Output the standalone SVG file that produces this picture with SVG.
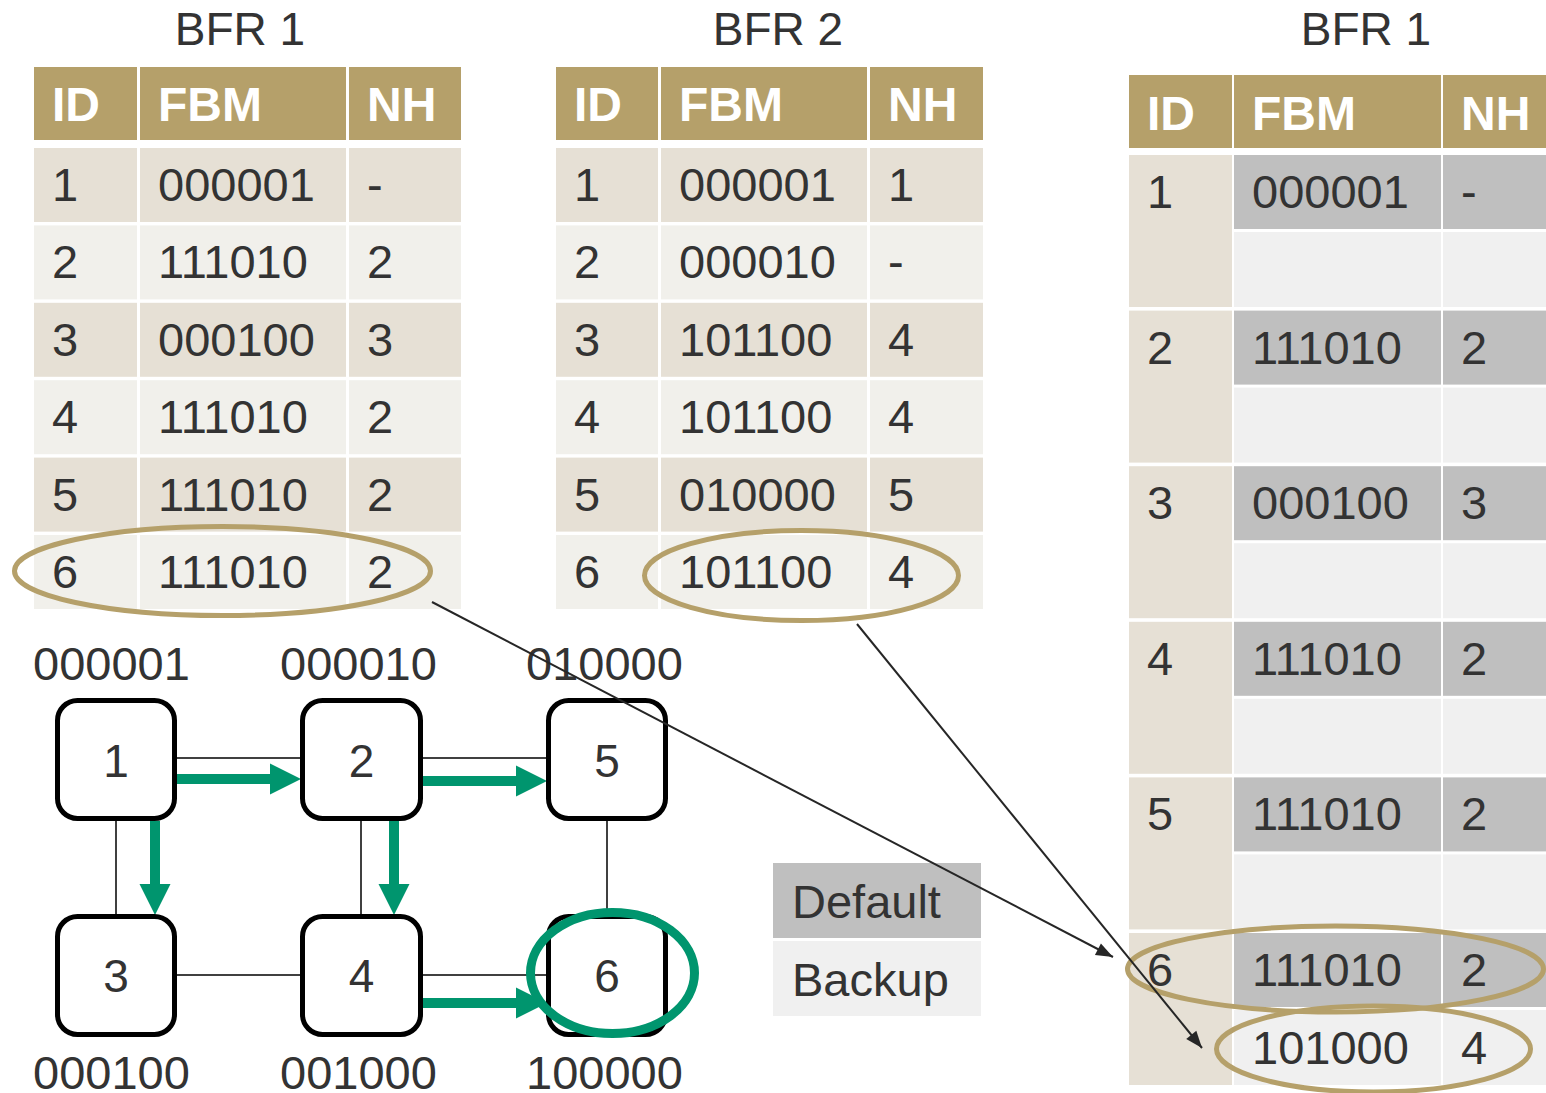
<svg xmlns="http://www.w3.org/2000/svg" width="1546" height="1093" viewBox="0 0 1546 1093">
<style>
text{font-family:"Liberation Sans",Arial,sans-serif;fill:#333333;font-size:47px}
.th{font-weight:bold;fill:#ffffff;font-size:48px}
.ttl{text-anchor:middle;font-size:46px}
.hd{fill:#B5A06A}
.r1{fill:#E6E0D5}
.r2{fill:#F1F0EB}
.def{fill:#BFBFBF}
.bak{fill:#F0F0F0}
.idc{fill:#E6E0D5}
.ring{fill:none;stroke:#B5A06A;stroke-width:5}
.node rect{fill:#ffffff;stroke:#000000;stroke-width:5}
.nl{text-anchor:middle;font-size:46px}
.link{stroke:#404040;stroke-width:2;fill:none}
.garr{stroke:#00956E;stroke-width:10;fill:none}
.ptr{stroke:#262626;stroke-width:2;fill:none}
</style>
<defs>
<marker id="gh" markerUnits="userSpaceOnUse" markerWidth="31" markerHeight="31" refX="0" refY="15.5" orient="auto" overflow="visible">
<path d="M0,0 L31,15.5 L0,31 z" fill="#00956E"/>
</marker>
<marker id="bh" markerUnits="userSpaceOnUse" markerWidth="17" markerHeight="13" refX="17" refY="6.5" orient="auto" overflow="visible">
<path d="M0,0 L17,6.5 L0,13 z" fill="#262626"/>
</marker>
</defs>
<rect width="1546" height="1093" fill="#ffffff"/>

<!-- Left table BFR 1 -->
<g id="table-bfr1-left">
<text class="ttl" x="240" y="45">BFR 1</text>
<rect class="hd" x="34" y="67" width="103" height="73"/>
<rect class="hd" x="140" y="67" width="206" height="73"/>
<rect class="hd" x="349" y="67" width="112" height="73"/>
<text class="th" x="52" y="121">ID</text>
<text class="th" x="158" y="121">FBM</text>
<text class="th" x="367" y="121">NH</text>
<g>
<rect class="r1" x="34" y="148" width="103" height="74"/><rect class="r1" x="140" y="148" width="206" height="74"/><rect class="r1" x="349" y="148" width="112" height="74"/>
<rect class="r2" x="34" y="225.4" width="103" height="74"/><rect class="r2" x="140" y="225.4" width="206" height="74"/><rect class="r2" x="349" y="225.4" width="112" height="74"/>
<rect class="r1" x="34" y="302.8" width="103" height="74"/><rect class="r1" x="140" y="302.8" width="206" height="74"/><rect class="r1" x="349" y="302.8" width="112" height="74"/>
<rect class="r2" x="34" y="380.2" width="103" height="74"/><rect class="r2" x="140" y="380.2" width="206" height="74"/><rect class="r2" x="349" y="380.2" width="112" height="74"/>
<rect class="r1" x="34" y="457.6" width="103" height="74"/><rect class="r1" x="140" y="457.6" width="206" height="74"/><rect class="r1" x="349" y="457.6" width="112" height="74"/>
<rect class="r2" x="34" y="535" width="103" height="74"/><rect class="r2" x="140" y="535" width="206" height="74"/><rect class="r2" x="349" y="535" width="112" height="74"/>
</g>
<text x="52" y="201">1</text><text x="158" y="201">000001</text><text x="367" y="201">-</text>
<text x="52" y="278">2</text><text x="158" y="278">111010</text><text x="367" y="278">2</text>
<text x="52" y="356">3</text><text x="158" y="356">000100</text><text x="367" y="356">3</text>
<text x="52" y="433">4</text><text x="158" y="433">111010</text><text x="367" y="433">2</text>
<text x="52" y="511">5</text><text x="158" y="511">111010</text><text x="367" y="511">2</text>
<text x="52" y="588">6</text><text x="158" y="588">111010</text><text x="367" y="588">2</text>
<ellipse class="ring" cx="222.5" cy="571" rx="208" ry="44.5"/>
</g>

<!-- Middle table BFR 2 -->
<g id="table-bfr2">
<text class="ttl" x="778" y="45">BFR 2</text>
<rect class="hd" x="556" y="67" width="102" height="73"/>
<rect class="hd" x="661" y="67" width="206" height="73"/>
<rect class="hd" x="870" y="67" width="113" height="73"/>
<text class="th" x="574" y="121">ID</text>
<text class="th" x="679" y="121">FBM</text>
<text class="th" x="888" y="121">NH</text>
<g>
<rect class="r1" x="556" y="148" width="102" height="74"/><rect class="r1" x="661" y="148" width="206" height="74"/><rect class="r1" x="870" y="148" width="113" height="74"/>
<rect class="r2" x="556" y="225.4" width="102" height="74"/><rect class="r2" x="661" y="225.4" width="206" height="74"/><rect class="r2" x="870" y="225.4" width="113" height="74"/>
<rect class="r1" x="556" y="302.8" width="102" height="74"/><rect class="r1" x="661" y="302.8" width="206" height="74"/><rect class="r1" x="870" y="302.8" width="113" height="74"/>
<rect class="r2" x="556" y="380.2" width="102" height="74"/><rect class="r2" x="661" y="380.2" width="206" height="74"/><rect class="r2" x="870" y="380.2" width="113" height="74"/>
<rect class="r1" x="556" y="457.6" width="102" height="74"/><rect class="r1" x="661" y="457.6" width="206" height="74"/><rect class="r1" x="870" y="457.6" width="113" height="74"/>
<rect class="r2" x="556" y="535" width="102" height="74"/><rect class="r2" x="661" y="535" width="206" height="74"/><rect class="r2" x="870" y="535" width="113" height="74"/>
</g>
<text x="574" y="201">1</text><text x="679" y="201">000001</text><text x="888" y="201">1</text>
<text x="574" y="278">2</text><text x="679" y="278">000010</text><text x="888" y="278">-</text>
<text x="574" y="356">3</text><text x="679" y="356">101100</text><text x="888" y="356">4</text>
<text x="574" y="433">4</text><text x="679" y="433">101100</text><text x="888" y="433">4</text>
<text x="574" y="511">5</text><text x="679" y="511">010000</text><text x="888" y="511">5</text>
<text x="574" y="588">6</text><text x="679" y="588">101100</text><text x="888" y="588">4</text>
<ellipse class="ring" cx="801.5" cy="575.5" rx="157" ry="45"/>
</g>

<!-- Right table BFR 1 -->
<g id="table-bfr1-right">
<text class="ttl" x="1366" y="45">BFR 1</text>
<rect class="hd" x="1129" y="75" width="103" height="73"/>
<rect class="hd" x="1234" y="75" width="207" height="73"/>
<rect class="hd" x="1443" y="75" width="103" height="73"/>
<text class="th" x="1147" y="130">ID</text>
<text class="th" x="1252" y="130">FBM</text>
<text class="th" x="1461" y="130">NH</text>
<g>
<rect class="idc" x="1129" y="155" width="103" height="152"/><rect class="def" x="1234" y="155" width="207" height="74"/><rect class="def" x="1443" y="155" width="103" height="74"/><rect class="bak" x="1234" y="232" width="207" height="75"/><rect class="bak" x="1443" y="232" width="103" height="75"/>
<rect class="idc" x="1129" y="310.6" width="103" height="152"/><rect class="def" x="1234" y="310.6" width="207" height="74"/><rect class="def" x="1443" y="310.6" width="103" height="74"/><rect class="bak" x="1234" y="387.6" width="207" height="75"/><rect class="bak" x="1443" y="387.6" width="103" height="75"/>
<rect class="idc" x="1129" y="466.2" width="103" height="152"/><rect class="def" x="1234" y="466.2" width="207" height="74"/><rect class="def" x="1443" y="466.2" width="103" height="74"/><rect class="bak" x="1234" y="543.2" width="207" height="75"/><rect class="bak" x="1443" y="543.2" width="103" height="75"/>
<rect class="idc" x="1129" y="621.8" width="103" height="152"/><rect class="def" x="1234" y="621.8" width="207" height="74"/><rect class="def" x="1443" y="621.8" width="103" height="74"/><rect class="bak" x="1234" y="698.8" width="207" height="75"/><rect class="bak" x="1443" y="698.8" width="103" height="75"/>
<rect class="idc" x="1129" y="777.4" width="103" height="152"/><rect class="def" x="1234" y="777.4" width="207" height="74"/><rect class="def" x="1443" y="777.4" width="103" height="74"/><rect class="bak" x="1234" y="854.4" width="207" height="75"/><rect class="bak" x="1443" y="854.4" width="103" height="75"/>
<rect class="idc" x="1129" y="933" width="103" height="152"/><rect class="def" x="1234" y="933" width="207" height="74"/><rect class="def" x="1443" y="933" width="103" height="74"/><rect class="bak" x="1234" y="1010" width="207" height="75"/><rect class="bak" x="1443" y="1010" width="103" height="75"/>
</g>
<text x="1147" y="208">1</text><text x="1252" y="208">000001</text><text x="1461" y="208">-</text>
<text x="1147" y="364">2</text><text x="1252" y="364">111010</text><text x="1461" y="364">2</text>
<text x="1147" y="519">3</text><text x="1252" y="519">000100</text><text x="1461" y="519">3</text>
<text x="1147" y="675">4</text><text x="1252" y="675">111010</text><text x="1461" y="675">2</text>
<text x="1147" y="830">5</text><text x="1252" y="830">111010</text><text x="1461" y="830">2</text>
<text x="1147" y="986">6</text><text x="1252" y="986">111010</text><text x="1461" y="986">2</text>
<text x="1252" y="1064">101000</text><text x="1461" y="1064">4</text>
<ellipse class="ring" cx="1335.5" cy="969" rx="208" ry="43"/>
<ellipse class="ring" cx="1373.5" cy="1049" rx="157" ry="43"/>
</g>

<!-- Legend -->
<g id="legend">
<rect class="def" x="773" y="863" width="208" height="75"/>
<rect class="bak" x="773" y="941" width="208" height="75"/>
<text x="792" y="918">Default</text>
<text x="792" y="996">Backup</text>
</g>

<!-- Graph links -->
<g id="graph-links">
<line class="link" x1="177" y1="758" x2="300" y2="758"/>
<line class="link" x1="423" y1="758" x2="546" y2="758"/>
<line class="link" x1="116" y1="821" x2="116" y2="914"/>
<line class="link" x1="361" y1="821" x2="361" y2="914"/>
<line class="link" x1="607" y1="820" x2="607" y2="914"/>
<line class="link" x1="177" y1="975" x2="300" y2="975"/>
<line class="link" x1="423" y1="975" x2="546" y2="975"/>
<line class="garr" x1="177" y1="779" x2="270" y2="779" marker-end="url(#gh)"/>
<line class="garr" x1="423" y1="781" x2="516" y2="781" marker-end="url(#gh)"/>
<line class="garr" x1="423" y1="1003" x2="516" y2="1003" marker-end="url(#gh)"/>
<line class="garr" x1="155" y1="821" x2="155" y2="884" marker-end="url(#gh)"/>
<line class="garr" x1="394" y1="821" x2="394" y2="884" marker-end="url(#gh)"/>
</g>

<!-- Nodes -->
<g id="node-1" class="node"><rect x="57.5" y="700.5" width="117" height="118" rx="20"/><text class="nl" x="116" y="776.5">1</text><text x="33" y="680">000001</text></g>
<g id="node-2" class="node"><rect x="302.5" y="700.5" width="118" height="118" rx="20"/><text class="nl" x="361.5" y="776.5">2</text><text x="280" y="680">000010</text></g>
<g id="node-5" class="node"><rect x="548.5" y="700.5" width="117" height="118" rx="20"/><text class="nl" x="607" y="776.5">5</text><text x="526" y="680">010000</text></g>
<g id="node-3" class="node"><rect x="57.5" y="916.5" width="117" height="118" rx="20"/><text class="nl" x="116" y="992">3</text><text x="33" y="1089">000100</text></g>
<g id="node-4" class="node"><rect x="302.5" y="916.5" width="118" height="118" rx="20"/><text class="nl" x="361.5" y="992">4</text><text x="280" y="1089">001000</text></g>
<g id="node-6" class="node"><rect x="548.5" y="916.5" width="117" height="118" rx="20"/><text class="nl" x="607" y="992">6</text><text x="526" y="1089">100000</text></g>
<ellipse id="highlight-6" cx="612.5" cy="973" rx="82" ry="60.5" fill="none" stroke="#00956E" stroke-width="9"/>

<!-- Pointer connectors -->
<g id="connectors">
<line class="ptr" x1="432" y1="602" x2="1113" y2="957" marker-end="url(#bh)"/>
<line class="ptr" x1="857" y1="624" x2="1202" y2="1048" marker-end="url(#bh)"/>
</g>
</svg>
